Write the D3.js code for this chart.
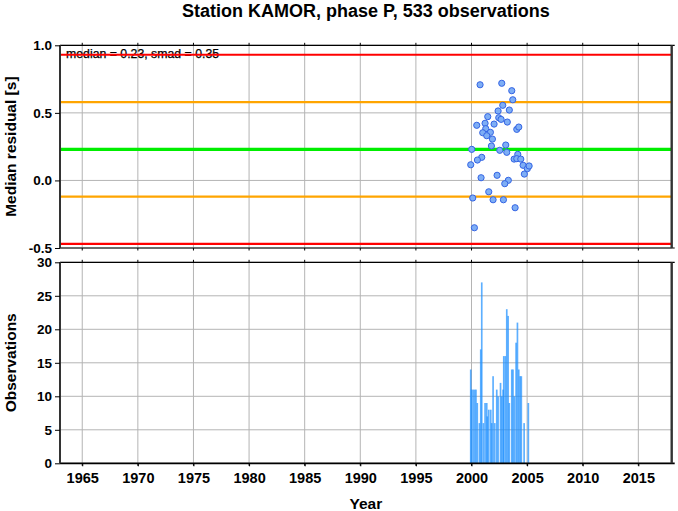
<!DOCTYPE html>
<html><head><meta charset="utf-8">
<script src="https://cdn.jsdelivr.net/npm/d3@7"></script>
<style>body{margin:0;background:#fff;} svg{display:block;font-family:"Liberation Sans",Arial,Helvetica,sans-serif;}</style>
</head><body>
<svg id="c" width="678" height="511"></svg>
<script>
// ---- data ----
const title = "Station KAMOR, phase P, 533 observations";
const medianVal = 0.23, smadVal = 0.35;
const residYears = [2000.77,2002.72,2003.62,2003.71,2002.81,2002.39,2003.40,2001.46,2002.45,2002.66,2003.22,2000.47,2001.22,2002.03,2004.07,2004.25,2001.28,2001.01,2001.70,2001.37,2001.88,2001.79,2003.08,2000.02,2002.54,2003.17,2004.16,2000.92,2000.53,2003.83,2004.07,2004.43,1999.93,2004.64,2005.02,2005.18,2004.75,2000.86,2002.30,2003.31,2002.99,2001.55,2000.11,2001.94,2002.87,2003.92,2000.26];
const residValues = [0.708,0.719,0.664,0.597,0.556,0.514,0.521,0.472,0.464,0.452,0.432,0.408,0.423,0.417,0.378,0.395,0.383,0.353,0.356,0.331,0.306,0.255,0.262,0.230,0.223,0.208,0.193,0.171,0.151,0.158,0.161,0.158,0.116,0.112,0.087,0.107,0.047,0.020,0.038,0.001,-0.024,-0.084,-0.130,-0.143,-0.143,-0.202,-0.350];
const obsYears = [1999.93,2000.00,2000.14,2000.28,2000.40,2000.52,2000.71,2000.83,2000.92,2001.07,2001.22,2001.37,2001.42,2001.55,2001.73,2001.82,2001.94,2002.09,2002.27,2002.39,2002.61,2002.72,2002.84,2002.90,2003.04,2003.17,2003.29,2003.40,2003.62,2003.73,2003.85,2004.01,2004.13,2004.25,2004.37,2004.48,2004.73,2005.11];
const obsCounts = [14,11,11,11,11,9,6,17,27,6,9,9,7,8,8,6,13,6,11,10,12,10,11,16,16,23,22,9,14,14,10,18,21,14,13,13,6,9];
const yearTicks = [1965,1970,1975,1980,1985,1990,1995,2000,2005,2010,2015];
const residTicks = [-0.5,0.0,0.5,1.0];
const obsTicks = [0,5,10,15,20,25,30];

// ---- layout ----
const svg = d3.select("#c");
const L = 60, R = 671.7;
const top1 = 45.3, bot1 = 248, top2 = 262.3, bot2 = 463.3;
const x = d3.scaleLinear().domain([1963, 2018]).range([L, R]);
const y1 = d3.scaleLinear().domain([-0.5, 1.0]).range([bot1, top1]);
const y2 = d3.scaleLinear().domain([0, 30]).range([bot2, top2]);

svg.append("text").attr("x", (L+R)/2).attr("y", 17).attr("text-anchor","middle")
  .attr("font-size",18).attr("font-weight","bold").text(title);

function grid(yScale, yt, t, b) {
  const g = svg.append("g");
  g.selectAll("line.v").data(yearTicks).enter().append("line")
    .attr("x1", d=>x(d)).attr("x2", d=>x(d)).attr("y1", t).attr("y2", b)
    .attr("stroke","#b4b4b4").attr("stroke-width",1);
  g.selectAll("line.h").data(yt).enter().append("line")
    .attr("x1", L).attr("x2", R).attr("y1", d=>yScale(d)).attr("y2", d=>yScale(d))
    .attr("stroke","#b4b4b4").attr("stroke-width",1);
}
grid(y1, residTicks, top1, bot1);
grid(y2, obsTicks, top2, bot2);

// annotation
svg.append("text").attr("x", 66).attr("y", 58).attr("font-size",12.3).attr("fill","#000")
  .attr("stroke","#000").attr("stroke-width",0.25)
  .text(`median = ${medianVal.toFixed(2)}, smad = ${smadVal.toFixed(2)}`);

// reference lines
const refs = [
  {v: medianVal + 2*smadVal, c: "#ff0000", w: 2.2},
  {v: medianVal - 2*smadVal, c: "#ff0000", w: 2.2},
  {v: medianVal + smadVal, c: "#ffa500", w: 2.2},
  {v: medianVal - smadVal, c: "#ffa500", w: 2.2},
  {v: medianVal, c: "#00ee00", w: 3.2}
];
svg.append("g").selectAll("line").data(refs).enter().append("line")
  .attr("x1", L).attr("x2", R).attr("y1", d=>y1(d.v)).attr("y2", d=>y1(d.v))
  .attr("stroke", d=>d.c).attr("stroke-width", d=>d.w);

// points
const pts = residYears.map((d,i)=>({t:d, v:residValues[i]}));
svg.append("g").selectAll("circle").data(pts).enter().append("circle")
  .attr("cx", d=>x(d.t)).attr("cy", d=>y1(d.v)).attr("r", 3.1)
  .attr("fill","#7eaef5").attr("stroke","#3464e4").attr("stroke-width",1);

// bars
const bars = obsYears.map((d,i)=>({t:d, n:obsCounts[i]}));
const bw = 0.075;
svg.append("g").selectAll("rect").data(bars).enter().append("rect")
  .attr("x", d=>x(d.t - bw)).attr("width", d=>x(d.t + bw) - x(d.t - bw))
  .attr("y", d=>y2(d.n)).attr("height", d=>y2(0) - y2(d.n))
  .attr("fill","#1e90ff").attr("fill-opacity",0.72);

// frames
function frame(t, b, bottomW) {
  const g = svg.append("g");
  g.append("line").attr("x1",L).attr("x2",R+3).attr("y1",t).attr("y2",t).attr("stroke","#000").attr("stroke-width",1.2);
  g.append("line").attr("x1",L).attr("x2",R+3).attr("y1",b).attr("y2",b).attr("stroke","#000").attr("stroke-width",bottomW);
  g.append("line").attr("x1",L).attr("x2",L).attr("y1",t).attr("y2",b).attr("stroke","#333").attr("stroke-width",2);
  g.append("line").attr("x1",R).attr("x2",R).attr("y1",t).attr("y2",b).attr("stroke","#333").attr("stroke-width",2.4);
  g.selectAll("line.tt").data(yearTicks).enter().append("line")
    .attr("x1",d=>x(d)).attr("x2",d=>x(d)).attr("y1",t).attr("y2",t-2.5).attr("stroke","#000").attr("stroke-width",1);
  g.selectAll("line.tb").data(yearTicks).enter().append("line")
    .attr("x1",d=>x(d)).attr("x2",d=>x(d)).attr("y1",b).attr("y2",b+2.5).attr("stroke","#000").attr("stroke-width",1);
}
frame(top1, bot1, 1.2);
frame(top2, bot2, 1.8);

// y axes
const ax1 = svg.append("g").attr("transform",`translate(${L},0)`)
  .call(d3.axisLeft(y1).tickValues(residTicks).tickFormat(d3.format(".1f")).tickSize(5).tickPadding(3));
const ax2 = svg.append("g").attr("transform",`translate(${L},0)`)
  .call(d3.axisLeft(y2).tickValues(obsTicks).tickFormat(d3.format("d")).tickSize(5).tickPadding(3));
const axx = svg.append("g").attr("transform",`translate(0,${bot2})`)
  .call(d3.axisBottom(x).tickValues(yearTicks).tickFormat(d3.format("d")).tickSize(3).tickPadding(6));
[ax1, ax2, axx].forEach(a=>{
  a.select(".domain").remove();
  a.selectAll(".tick line").attr("stroke","#000").attr("stroke-width",1);
  a.selectAll(".tick text").attr("font-weight","bold").attr("fill","#000")
    .attr("font-family","'Liberation Sans',Arial,sans-serif");
});
ax1.selectAll(".tick text").attr("font-size",13.5);
ax2.selectAll(".tick text").attr("font-size",13.5);
axx.selectAll(".tick text").attr("font-size",14.5);
ax1.selectAll(".tick text").text(d => d < 0 ? "-" + Math.abs(d).toFixed(1) : d.toFixed(1));

// axis labels
svg.append("text").attr("transform",`translate(16,${(top1+bot1)/2}) rotate(-90)`).attr("text-anchor","middle")
  .attr("font-size",15.5).attr("font-weight","bold").text("Median residual [s]");
svg.append("text").attr("transform",`translate(16,${(top2+bot2)/2}) rotate(-90)`).attr("text-anchor","middle")
  .attr("font-size",15.5).attr("font-weight","bold").text("Observations");
svg.append("text").attr("x",(L+R)/2).attr("y",509).attr("text-anchor","middle")
  .attr("font-size",15.5).attr("font-weight","bold").text("Year");
</script>
</body></html>
